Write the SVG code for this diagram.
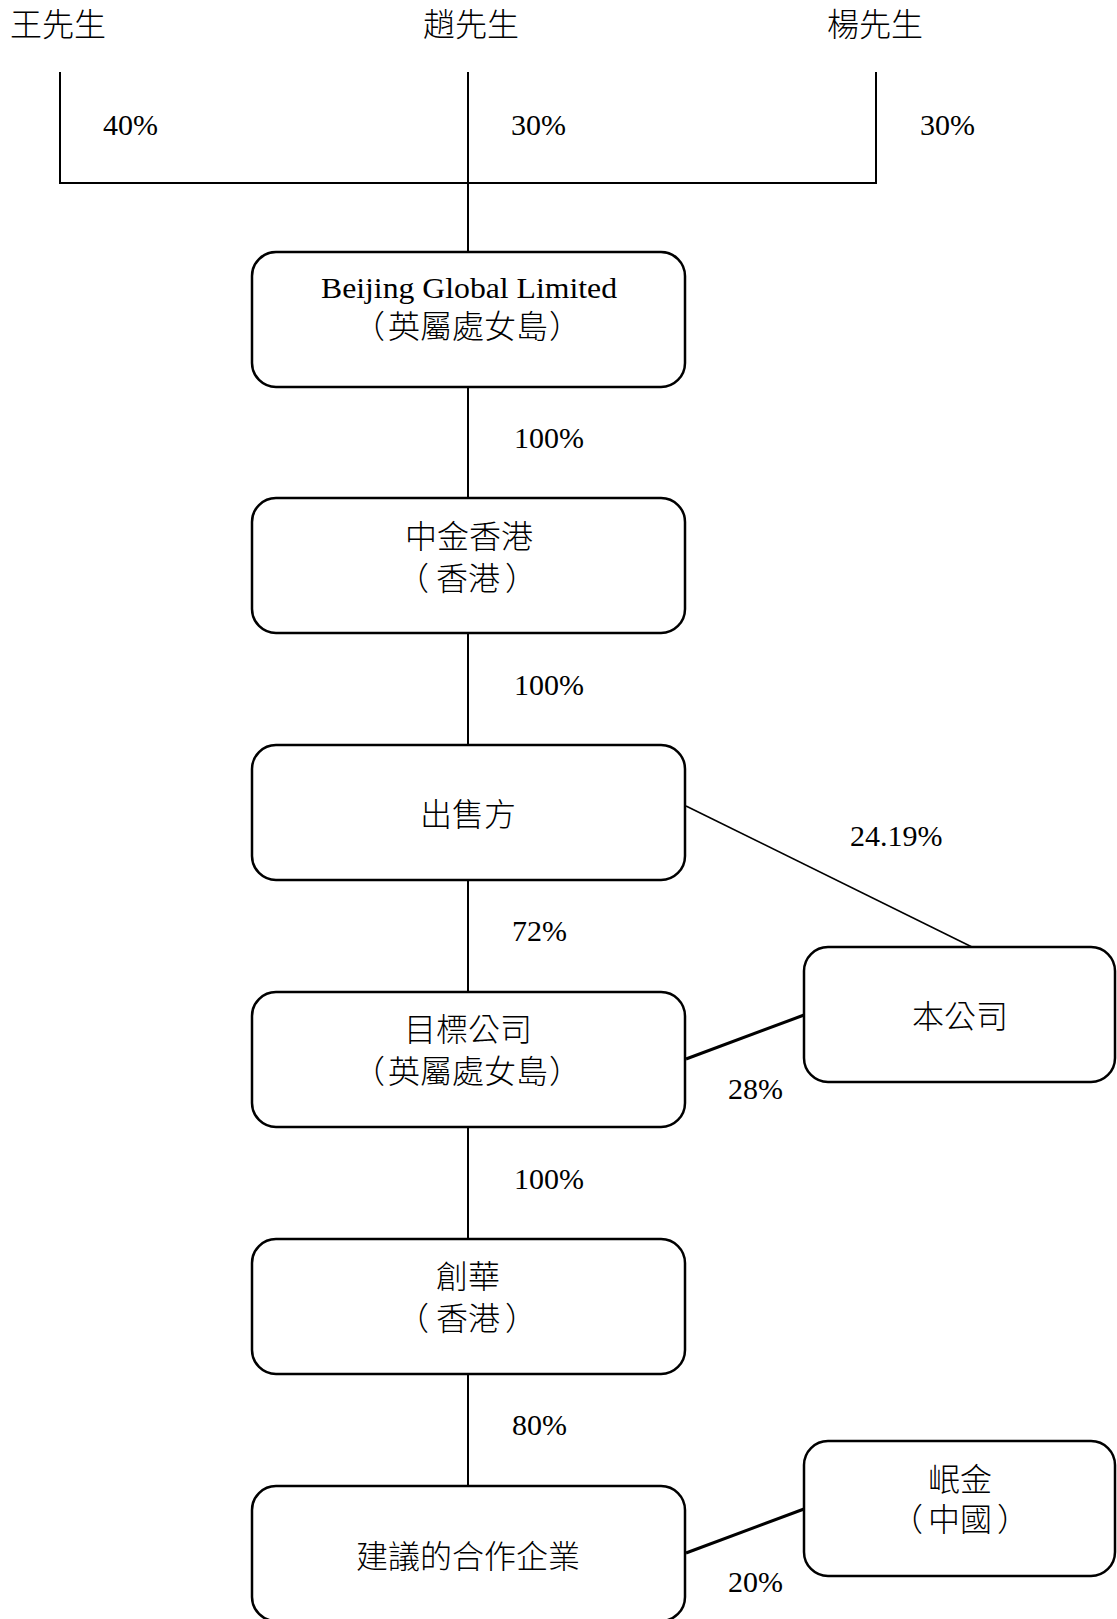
<svg xmlns="http://www.w3.org/2000/svg" width="1117" height="1619" viewBox="0 0 1117 1619">
<style>
  .box { fill: #ffffff; stroke: #000000; stroke-width: 2.5; }
  .ln { stroke: #000000; stroke-width: 2; fill: none; }
  .lnb { stroke: #000000; stroke-width: 3; fill: none; }
  .lnt { stroke: #000000; stroke-width: 1.6; fill: none; }
  text { font-family: "Liberation Serif", "Noto Sans CJK TC", serif; font-size: 30px; fill: #000000; }
  .cjk { font-size: 32px; font-weight: 300; }
  .c { text-anchor: middle; }
  .e { text-anchor: end; }
  .s { text-anchor: start; }
</style>
<rect width="1117" height="1619" fill="#ffffff"/>
<g id="connectors">
  <line class="ln" x1="60" y1="72" x2="60" y2="183"/>
  <line class="ln" x1="468" y1="72" x2="468" y2="183"/>
  <line class="ln" x1="876" y1="72" x2="876" y2="183"/>
  <line class="ln" x1="59" y1="183" x2="877" y2="183"/>
  <line class="ln" x1="468" y1="183" x2="468" y2="252"/>
  <line class="ln" x1="468" y1="386" x2="468" y2="498"/>
  <line class="ln" x1="468" y1="633" x2="468" y2="745"/>
  <line class="ln" x1="468" y1="880" x2="468" y2="992"/>
  <line class="ln" x1="468" y1="1127" x2="468" y2="1239"/>
  <line class="ln" x1="468" y1="1374" x2="468" y2="1486"/>
  <line class="lnt" x1="686" y1="806" x2="972" y2="947"/>
  <line class="lnb" x1="686" y1="1059" x2="804" y2="1015"/>
  <line class="lnb" x1="686" y1="1553" x2="804" y2="1509"/>
  <text x="103" y="135">40%</text>
  <text x="511" y="135">30%</text>
  <text x="920" y="135">30%</text>
  <text x="514" y="448">100%</text>
  <text x="514" y="695">100%</text>
  <text x="512" y="941">72%</text>
  <text x="514" y="1189">100%</text>
  <text x="512" y="1435">80%</text>
  <text x="850" y="846">24.19%</text>
  <text x="728" y="1099">28%</text>
  <text x="728" y="1592">20%</text>
</g>
<g id="wang"><text class="cjk c" x="58" y="36">王先生</text></g>
<g id="zhao"><text class="cjk c" x="471" y="36">趙先生</text></g>
<g id="yang"><text class="cjk c" x="875" y="36">楊先生</text></g>
<g id="beijing-global">
  <rect class="box" x="252" y="252" width="433" height="135" rx="24"/>
  <text class="c" x="469" y="298" textLength="296" lengthAdjust="spacingAndGlyphs">Beijing Global Limited</text>
  <text class="cjk" y="338"><tspan class="e" x="385">（</tspan><tspan class="c" x="468">英屬處女島</tspan><tspan class="s" x="549">）</tspan></text>
</g>
<g id="zhongjin-hk">
  <rect class="box" x="252" y="498" width="433" height="135" rx="24"/>
  <text class="cjk c" x="469" y="548">中金香港</text>
  <text class="cjk" y="590"><tspan class="e" x="429">（</tspan><tspan class="c" x="468">香港</tspan><tspan class="s" x="505">）</tspan></text>
</g>
<g id="vendor">
  <rect class="box" x="252" y="745" width="433" height="135" rx="24"/>
  <text class="cjk c" x="468" y="826">出售方</text>
</g>
<g id="target">
  <rect class="box" x="252" y="992" width="433" height="135" rx="24"/>
  <text class="cjk c" x="468" y="1041">目標公司</text>
  <text class="cjk" y="1083"><tspan class="e" x="385">（</tspan><tspan class="c" x="468">英屬處女島</tspan><tspan class="s" x="549">）</tspan></text>
</g>
<g id="company">
  <rect class="box" x="804" y="947" width="311" height="135" rx="24"/>
  <text class="cjk c" x="960" y="1028">本公司</text>
</g>
<g id="chuanghua">
  <rect class="box" x="252" y="1239" width="433" height="135" rx="24"/>
  <text class="cjk c" x="468" y="1288">創華</text>
  <text class="cjk" y="1330"><tspan class="e" x="429">（</tspan><tspan class="c" x="468">香港</tspan><tspan class="s" x="505">）</tspan></text>
</g>
<g id="jv">
  <rect class="box" x="252" y="1486" width="433" height="135" rx="24"/>
  <text class="cjk c" x="468" y="1568">建議的合作企業</text>
</g>
<g id="minjin">
  <rect class="box" x="804" y="1441" width="311" height="135" rx="24"/>
  <text class="cjk c" x="960" y="1491">岷金</text>
  <text class="cjk" y="1531"><tspan class="e" x="923">（</tspan><tspan class="c" x="960">中國</tspan><tspan class="s" x="997">）</tspan></text>
</g>
</svg>
